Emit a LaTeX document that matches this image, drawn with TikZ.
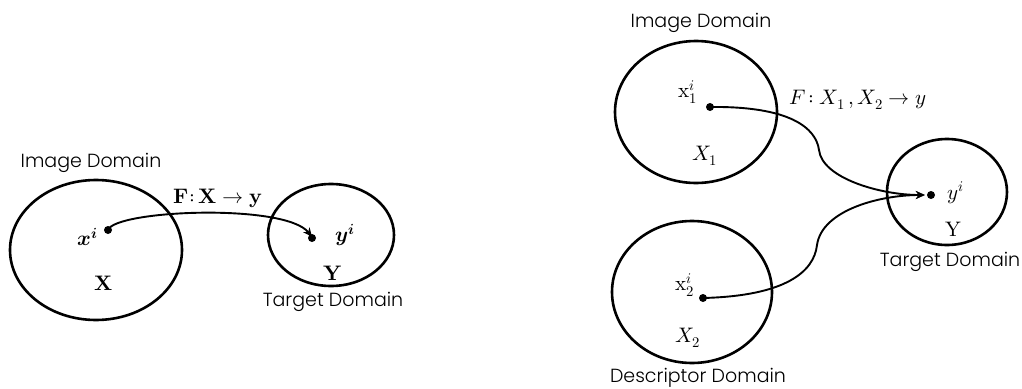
\documentclass[tikz,border=0pt]{standalone}
\usepackage{fontspec}
\setmainfont{Poppins}[UprightFont={* Light}]
\usepackage{unicode-math}
\setmathfont{Latin Modern Math}
\usetikzlibrary{arrows.meta}
\tikzset{
  dom/.style={line width=2.6pt},
  pt/.style={circle, fill, inner sep=0pt, minimum size=8pt},
  caption/.style={font=\fontsize{19}{21}\selectfont},
  mlabel/.style={font=\fontsize{21}{23}\selectfont},
  map/.style={line width=1.9pt, -{Stealth[length=9pt,width=8pt]}},
}
\begin{document}
\begin{tikzpicture}[x=1pt,y=-1pt]
\useasboundingbox (0,0) rectangle (1022,388);

% ---- single-input mapping ----
\draw[dom] (96,250) ellipse [x radius=86, y radius=70];
\draw[dom] (331,235) ellipse [x radius=63, y radius=51];
\node[caption] (imgA) at (91,163) {Image Domain};
\node[caption] (tgtA) at (333,302) {Target Domain};
\node[pt] (xa) at (108,230) {};
\node[pt] (ya) at (312,238) {};
\node[mlabel] (xal) at (88,237) {$\symbfit{x}^{\symbfit{i}}$};
\node[mlabel] (yal) at (345,235) {$\symbfit{y}^{\symbfit{i}}$};
\node[mlabel] (Xa) at (104,283) {$\symbf{X}$};
\node[mlabel] (Ya) at (333,273) {$\symbf{Y}$};
\node[mlabel] (Fa) at (218,198) {$\symbf{F}\mathbf{:}\,\symbf{X} \to \symbf{y}$};
\draw[map] (xa.center) .. controls (115,210) and (285,203) .. ([yshift=-3pt]ya.north);

% ---- two-input mapping ----
\draw[dom] (696,112) ellipse [x radius=81, y radius=71];
\draw[dom] (692,292) ellipse [x radius=80, y radius=71];
\draw[dom] (947,192) ellipse [x radius=60, y radius=53];
\node[caption] (imgB) at (701,23) {Image Domain};
\node[caption] (desB) at (698,378) {Descriptor Domain};
\node[caption] (tgtB) at (950,262) {Target Domain};
\node[pt] (x1) at (710,107) {};
\node[pt] (x2) at (703,298) {};
\node[pt] (yb) at (931,195) {};
\node[mlabel] (x1l) at (688,92) {$\symup{x}_1^{i}$};
\node[mlabel] (x2l) at (685,285) {$\symup{x}_2^{i}$};
\node[mlabel] (X1) at (705,156) {$X_1$};
\node[mlabel] (X2) at (688,338) {$X_2$};
\node[mlabel] (ybl) at (956,193) {$y^i$};
\node[mlabel] (Yb) at (954,229) {$\symup{Y}$};
\node[mlabel] (Fb) at (858,100) {$F\!: X_1\,, X_2 \to y$};
\coordinate (m1) at (819,150);
\coordinate (m2) at (817,245);
\draw[map] (x1.center) .. controls (790,106) and (816,128) .. (m1)
  .. controls (822,178) and (880,195) .. ([xshift=-2pt]yb.west);
\draw[map] (x2.center) .. controls (785,296) and (814,272) .. (m2)
  .. controls (822,210) and (880,195) .. ([xshift=-2pt]yb.west);
\end{tikzpicture}
\end{document}
